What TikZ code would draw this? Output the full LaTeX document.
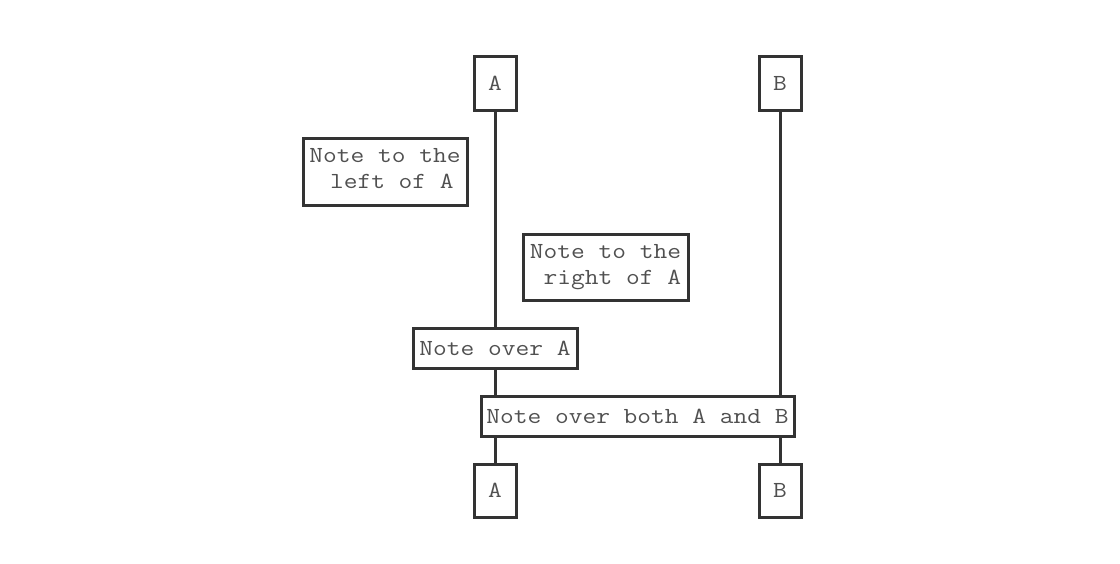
\documentclass[tikz,border=0pt]{standalone}
\usepackage{fontspec}
\setmonofont[FakeStretch=1.16]{Latin Modern Mono}
\definecolor{lineC}{HTML}{333333}
\definecolor{textC}{HTML}{505050}
\begin{document}
\begin{tikzpicture}[x=1pt,y=-1pt,
  box/.style={draw=lineC,line width=3pt,fill=white,inner sep=0pt,
    font=\fontsize{23}{26}\ttfamily,text=textC,align=center},
  life/.style={draw=lineC,line width=3pt}]
\useasboundingbox[fill=white] (0,0) rectangle (1120,563);
% actors
\node[box,minimum width=42pt,minimum height=54pt] (At) at (495,83) {A};
\node[box,minimum width=42pt,minimum height=54pt] (Bt) at (780,83) {B};
\node[box,minimum width=42pt,minimum height=53pt] (Ab) at (495,490.5) {A};
\node[box,minimum width=42pt,minimum height=53pt] (Bb) at (780,490.5) {B};
% lifelines
\draw[life] (At.south) -- (Ab.north);
\draw[life] (Bt.south) -- (Bb.north);
% notes
\node[box,minimum width=164pt,minimum height=67pt] (nl) at (385,171.5) {Note to the\\\phantom{x}left of A\vphantom{g}};
\node[box,minimum width=165pt,minimum height=66pt] (nr) at (605.5,267) {Note to the\\\phantom{x}right of A};
\node[box,minimum width=164pt,minimum height=40pt] (no) at (495,348) {Note over A};
\node[box,minimum width=313pt,minimum height=40pt] (nb) at (637.5,416) {Note over both A and B};
\end{tikzpicture}
\end{document}
